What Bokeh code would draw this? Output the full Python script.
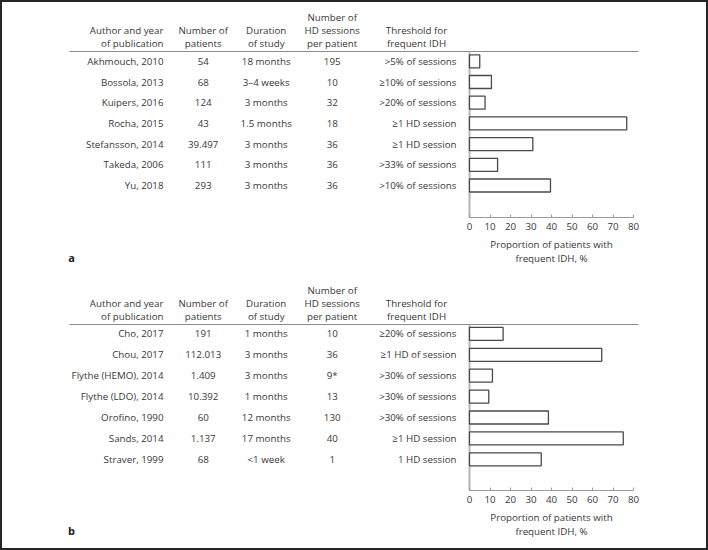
from bokeh.plotting import figure
from bokeh.models import (ColumnDataSource, LinearAxis, FixedTicker, Range1d)
from bokeh.core.properties import value
from bokeh.embed import file_html
from bokeh.resources import INLINE

# ---------------- data ----------------
TICKS = [0, 10, 20, 30, 40, 50, 60, 70, 80]
AXIS_TITLE = "Proportion of patients with\nfrequent IDH, %"

authors_a = ["Akhmouch, 2010", "Bossola, 2013", "Kuipers, 2016", "Rocha, 2015",
             "Stefansson, 2014", "Takeda, 2006", "Yu, 2018"]
patients_a = ["54", "68", "124", "43", "39.497", "111", "293"]
duration_a = ["18 months", "3\u20134 weeks", "3 months", "1.5 months", "3 months",
              "3 months", "3 months"]
sessions_a = ["195", "10", "32", "18", "36", "36", "36"]
threshold_a = [">5% of sessions", "\u226510% of sessions", ">20% of sessions",
               "\u22651 HD session", "\u22651 HD session", ">33% of sessions",
               ">10% of sessions"]
values_a = [5, 10.7, 7.6, 76.7, 30.9, 13.7, 39.5]

authors_b = ["Cho, 2017", "Chou, 2017", "Flythe (HEMO), 2014", "Flythe (LDO), 2014",
             "Orofino, 1990", "Sands, 2014", "Straver, 1999"]
patients_b = ["191", "112.013", "1.409", "10.392", "60", "1.137", "68"]
duration_b = ["1 months", "3 months", "3 months", "1 months", "12 months",
              "17 months", "<1 week"]
sessions_b = ["10", "36", "9*", "13", "130", "40", "1"]
threshold_b = ["\u226520% of sessions", "\u22651 HD of session", ">30% of sessions",
               ">30% of sessions", ">30% of sessions", "\u22651 HD session",
               "1 HD session"]
values_b = [16.4, 64.5, 11.2, 9.4, 38.5, 75, 35]

header_author = ["Author and year", "of publication"]
header_patients = ["Number of", "patients"]
header_duration = ["Duration", "of study"]
header_sessions = ["Number of", "HD sessions", "per patient"]
header_threshold = ["Threshold for", "frequent IDH"]

# ---------------- layout constants (pixels) ----------------
W, H = 708, 550
FONT = "Open Sans"
FS = "9.75px"
TXT = "#383838"
X0_PX = 469.0                 # pixel of value 0
PXU = (633.0 - 469.0) / 80.0  # pixels per % unit


def dx(px):
    return (px - X0_PX) / PXU


p = figure(width=W, height=H, output_backend="svg", toolbar_location=None,
           x_range=Range1d(dx(0), dx(W)), y_range=Range1d(H, 0),
           x_axis_location=None, y_axis_location=None,
           min_border=0, min_border_left=0, min_border_right=0,
           min_border_top=0, min_border_bottom=0)
p.xgrid.visible = False
p.ygrid.visible = False
p.background_fill_color = "white"
p.border_fill_color = "white"
p.outline_line_color = "#262626"
p.outline_line_width = 3


def panel(authors, patients, durations, sessions, thresholds, values, letter,
          rule_y, row0, step, axis_y):
    n = len(authors)
    ys = [row0 + i * step for i in range(n)]
    src = ColumnDataSource(dict(y=ys, author=authors, patients=patients,
                                duration=durations, sessions=sessions,
                                threshold=thresholds, value=values))
    # rules
    p.segment(x0=dx(69), x1=dx(638), y0=rule_y, y1=rule_y,
              line_color="#8c8c8c", line_width=1)
    p.segment(x0=0, x1=0, y0=rule_y, y1=axis_y, line_color="#b5b5b5",
              line_width=2)
    # bars
    p.hbar(y="y", left=0, right="value", height=13, source=src,
           fill_color="white", line_color="#4a4a4a", line_width=1.3)
    # table text
    cols = [("author", dx(163), "right"), ("patients", dx(202.7), "center"),
            ("duration", dx(265.7), "center"), ("sessions", dx(331.7), "center"),
            ("threshold", dx(456), "right")]
    for field, xx, align in cols:
        p.text(x=xx, y="y", text=field, source=src, text_align=align,
               text_baseline="middle", text_font=value(FONT),
               text_font_size=value(FS), text_color=TXT)
    # headers
    line_ys = [rule_y - 34, rule_y - 21, rule_y - 8]
    headers = [(header_author, dx(163), "right"),
               (header_patients, dx(202.7), "center"),
               (header_duration, dx(265.7), "center"),
               (header_sessions, dx(331.7), "center"),
               (header_threshold, dx(416), "center")]
    for lines, xx, align in headers:
        hy = line_ys[3 - len(lines):]
        p.text(x=[xx] * len(lines), y=hy, text=lines, text_align=align,
               text_baseline="middle", text_font=value(FONT),
               text_font_size=value(FS), text_color=TXT)
    # panel letter
    p.text(x=[dx(71)], y=[axis_y + 40], text=[letter], text_align="center",
           text_baseline="middle", text_font=value(FONT),
           text_font_size=value("11px"), text_font_style="bold",
           text_color="#222222")
    # axis
    ax = LinearAxis(fixed_location=axis_y, bounds=(0, 80),
                    ticker=FixedTicker(ticks=TICKS))
    ax.axis_line_color = "#9a9a9a"
    ax.axis_line_width = 1.2
    ax.major_tick_line_color = "#9a9a9a"
    ax.major_tick_in = 3
    ax.major_tick_out = 0
    ax.minor_tick_line_color = None
    ax.major_label_standoff = 5
    ax.major_label_text_font = FONT
    ax.major_label_text_font_size = FS
    ax.major_label_text_color = TXT
    ax.axis_label = AXIS_TITLE
    ax.axis_label_standoff = 5
    ax.axis_label_text_font = FONT
    ax.axis_label_text_font_size = FS
    ax.axis_label_text_font_style = "normal"
    ax.axis_label_text_color = TXT
    ax.axis_label_text_line_height = 1.08
    p.add_layout(ax, "below")


panel(authors_a, patients_a, duration_a, sessions_a, threshold_a, values_a, "a",
      51, 60.8, 20.7, 217)
panel(authors_b, patients_b, duration_b, sessions_b, threshold_b, values_b, "b",
      324, 333.4, 20.9, 490)

open("out.html", "w").write(file_html(p, INLINE))
